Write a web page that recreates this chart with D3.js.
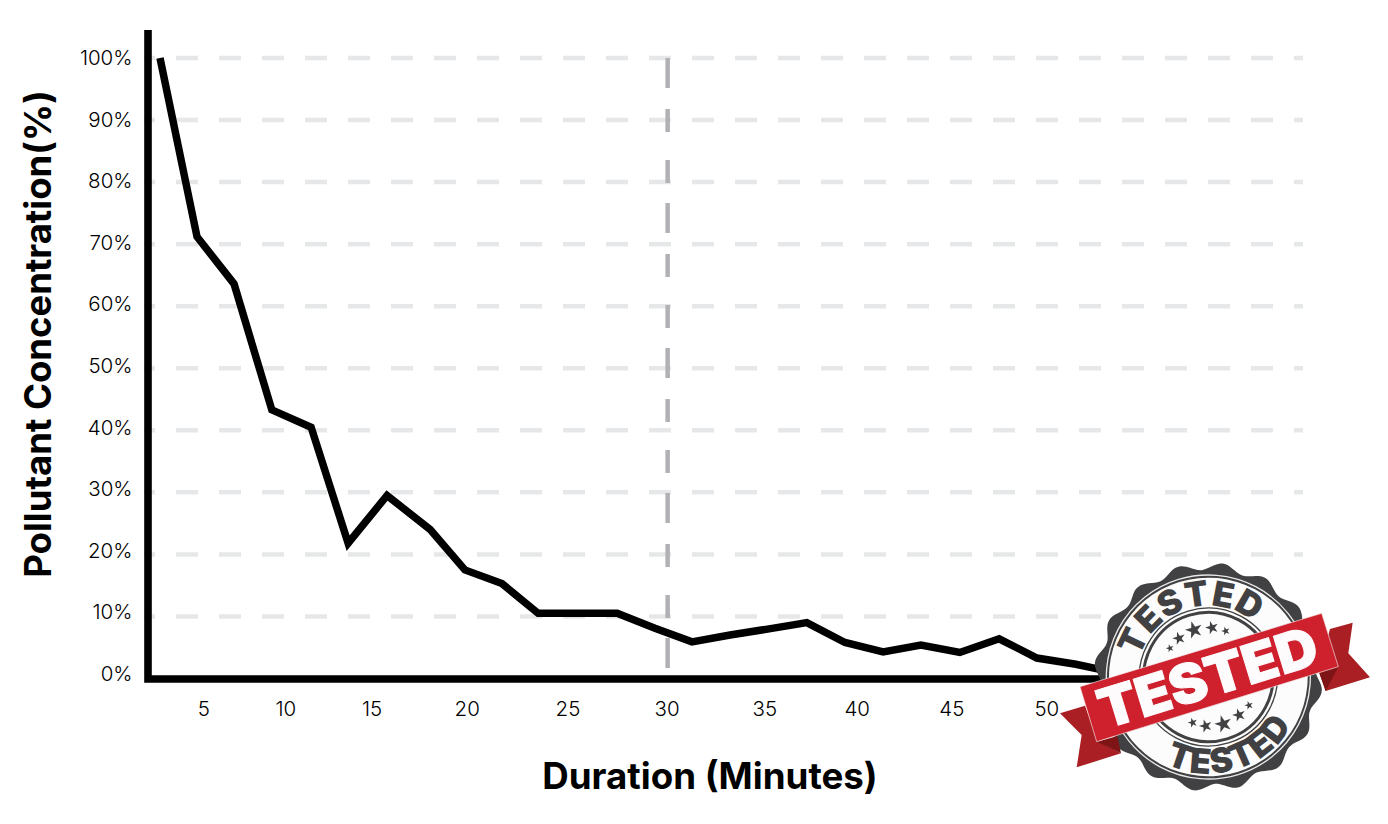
<!DOCTYPE html>
<html><head><meta charset="utf-8">
<script src="https://cdn.jsdelivr.net/npm/d3@7"></script>
<style>html,body{margin:0;padding:0;background:#fff}svg{display:block}text{font-family:Inter,sans-serif}</style>
</head><body><svg id="c" width="1388" height="824"></svg>
<script>
// sample position along the horizontal axis (one unit = one sampling step)
const samplePos = [0,0.97,1.94,2.93,3.96,4.93,5.95,7.08,7.99,8.96,9.91,10.95,11.98,12.97,13.94,14.94,15.96,16.95,17.95,18.95,19.94,20.96,21.99,22.98,24,25];
const concentration = [100,71.2,63.6,43.3,40.5,21.8,29.5,24,17.5,15.3,10.5,10.5,10.5,8.1,5.9,7,8,9,5.8,4.3,5.4,4.2,6.4,3.3,2.3,1];
const xTickLabels = [5,10,15,20,25,30,35,40,45,50];
const xTickPos = [1.15,3.30,5.56,8.05,10.69,13.29,15.85,18.27,20.75,23.24];
const yTicks = [0,10,20,30,40,50,60,70,80,90,100];
const markerLabel = 30;
const stampWord = "TESTED";

const svg = d3.select("#c");
const x = d3.scaleLinear().domain([0,25]).range([160,1114]);
const y = d3.scaleLinear().domain([0,100]).range([678.5,58]);
const yLabel = d3.scaleLinear().domain([0,100]).range([674,58]);

// grid
svg.append("g").selectAll("line").data(yTicks).join("line")
  .attr("x1",144).attr("x2",1303)
  .attr("y1",d=>y(d)).attr("y2",d=>y(d))
  .attr("stroke","#e6e7e8").attr("stroke-width",4.5)
  .attr("stroke-dasharray","22 21").attr("stroke-dashoffset",11);

// vertical marker
const markX = x(xTickPos[xTickLabels.indexOf(markerLabel)]) + 0.5;
svg.append("line").attr("x1",markX).attr("x2",markX).attr("y1",y(100)).attr("y2",668)
  .attr("stroke","#b1b1b5").attr("stroke-width",4.5).attr("stroke-dasharray","30 21 23 28 23 20");

// y tick labels
svg.append("g").selectAll("text").data(yTicks).join("text")
  .attr("x",132.5).attr("y",d=>yLabel(d)+7).attr("text-anchor","end")
  .attr("font-size",20.5).attr("font-weight",300).attr("fill","#000")
  .text(d=>d+"%");

// x tick labels
svg.append("g").selectAll("text").data(xTickLabels).join("text")
  .attr("x",(d,i)=>x(xTickPos[i])).attr("y",716).attr("text-anchor","middle")
  .attr("font-size",20.5).attr("font-weight",300).attr("fill","#000")
  .text(d=>d);

// axis titles
svg.append("text").attr("x",710).attr("y",789).attr("text-anchor","middle")
  .attr("font-size",36.7).attr("font-weight",700).attr("fill","#000").text("Duration (Minutes)");
svg.append("text").attr("transform","translate(51,334) rotate(-90)").attr("text-anchor","middle")
  .attr("font-size",36.5).attr("font-weight",700).attr("fill","#000").text("Pollutant Concentration(%)");

// data line
const line = d3.line().x((d,i)=>x(samplePos[i])).y(d=>y(d));
svg.append("path").datum(concentration).attr("d",line).attr("fill","none")
  .attr("stroke","#000").attr("stroke-width",7.5).attr("stroke-linejoin","miter");

// axes
svg.append("path").attr("d",`M148,30V679H1300`).attr("fill","none")
  .attr("stroke","#000").attr("stroke-width",7.6).attr("stroke-linejoin","miter");

// stamp (drawn in 3x units)
const st = svg.append("g").attr("transform","translate(1040,550) scale(0.33333)");
const cx=505, cy=381;
const poly=(pts,fill)=>st.append("polygon").attr("points",pts.map(p=>p.join(",")).join(" ")).attr("fill",fill);

// wavy seal edge
const lobes=16, wave=d3.range(lobes*8).map(i=>{
  const a=i/(lobes*8)*2*Math.PI; return [a,332+11*Math.cos(a*lobes-0.5)];});
const seal=st.append("g").attr("transform",`rotate(-17 ${cx} ${cy})`);
seal.append("path").attr("transform",`translate(${cx},${cy})`)
  .attr("d",d3.lineRadial().curve(d3.curveCardinalClosed)(wave)).attr("fill","#414042");
const ring=(r,fill,stroke,w)=>seal.append("circle").attr("cx",cx).attr("cy",cy).attr("r",r).attr("fill",fill).attr("stroke",stroke).attr("stroke-width",w);
ring(306,"none","#e8e8e8",4);
ring(298,"#fcfcfc","none",0);
ring(207,"none","#414042",4);
ring(194,"none","#414042",9);

// curved words
const defs=svg.append("defs");
const R1=214,R2=290;
defs.append("path").attr("id","arcTop").attr("d",`M${cx-R1},${cy}A${R1},${R1} 0 0 1 ${cx+R1},${cy}`);
defs.append("path").attr("id","arcBot").attr("d",`M${cx-R2},${cy}A${R2},${R2} 0 0 0 ${cx+R2},${cy}`);
["arcTop","arcBot"].forEach(id=>{
  seal.append("text").attr("font-size",104).attr("font-weight",900).attr("fill","#414042")
    .attr("text-anchor","middle").attr("letter-spacing",id==="arcTop"?2:4)
    .append("textPath").attr("href","#"+id).attr("startOffset","50%").text(stampWord);
});

// stars
const star=d3.symbol().type(d3.symbolStar);
const stars=[[390,295,110],[417,265,290],[462,240,520],[516,233,300],[557,243,130],
             [458,518,160],[497,528,290],[550,522,520],[597,495,300],[627,466,130]];
st.append("g").selectAll("path").data(stars).join("path")
  .attr("transform",d=>`translate(${d[0]},${d[1]}) rotate(-17)`)
  .attr("d",d=>star.size(d[2]*1.6)()).attr("fill","#414042");

// ribbon tails
poly([[870,237],[938,218],[925,310],[990,382],[857,423],[835,360]],"#a91f24");
poly([[60,490],[135,467],[175,575],[243,610],[110,652],[125,555]],"#a91f24");
poly([[895,350],[838,370],[857,423]],"#7f1416");
poly([[170,575],[232,558],[243,610]],"#7f1416");
// ribbon
poly([[120,410],[845,190],[895,350],[170,575]],"#cf202e").attr("stroke","#f3e3e3").attr("stroke-width",2);
st.append("text").attr("transform",`translate(503,383) rotate(-17)`)
  .attr("y",58).attr("text-anchor","middle").attr("font-size",164).attr("font-weight",900)
  .attr("stroke","#fdfbfc").attr("stroke-width",3)
  .attr("fill","#fdfbfc").attr("textLength",680).attr("lengthAdjust","spacingAndGlyphs").text(stampWord);
</script></body></html>
